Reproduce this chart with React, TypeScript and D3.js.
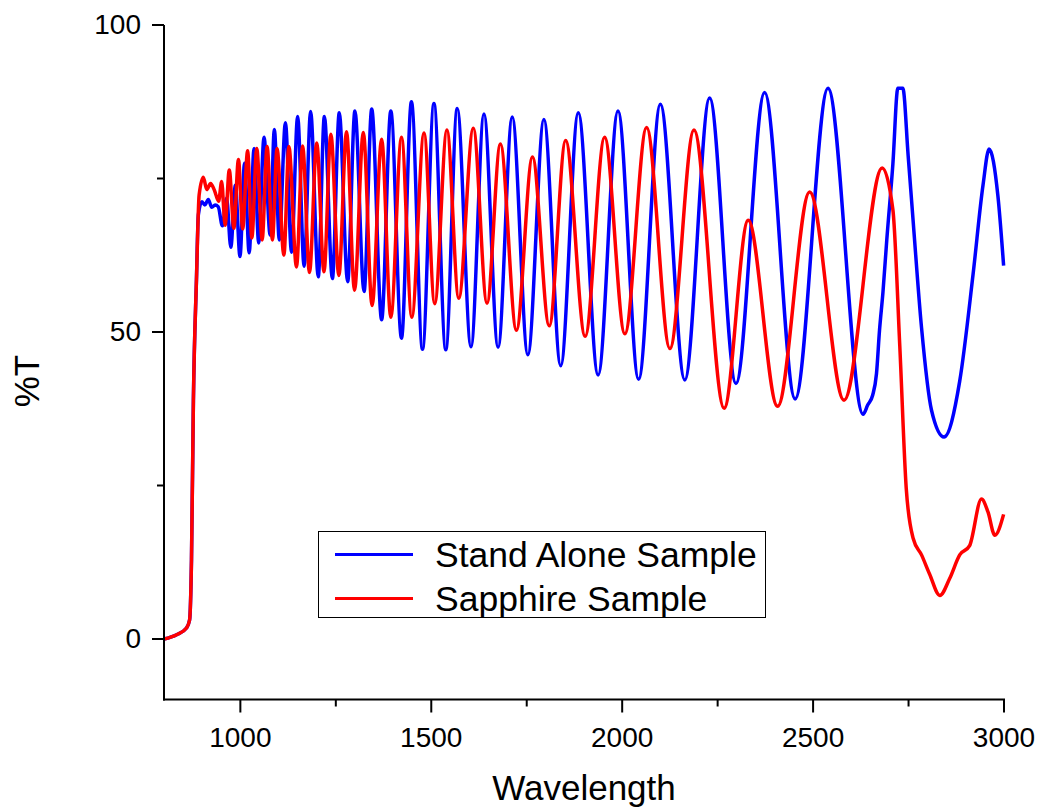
import React from "react";
import * as d3 from "d3";

// Wavelength (nm), %T — extrema and shape points
const standAloneSeries: [number, number][] = [
  [800, 0], [833, 0.7], [859, 1.8], [867, 3.1], [872, 12.9], [877, 38.9], [885, 58.5], [890, 69.1],
  [899, 71.2], [907, 70.7], [916, 71.6], [925, 70.3], [934, 70.7], [942, 70.4], [953, 67.3], [964, 71.8],
  [975, 63.8], [987, 73.9], [999, 62.3], [1011, 77.5], [1023, 62.9], [1036, 79.9], [1048, 64.5], [1062, 81.7],
  [1078, 65.8], [1089, 83.0], [1102, 65.0], [1118, 84.1], [1134, 63.0], [1150, 85.1], [1167, 60.7], [1184, 85.9],
  [1204, 59.0], [1220, 85.1], [1241, 58.7], [1259, 85.7], [1281, 58.2], [1300, 86.0], [1324, 56.6], [1344, 86.3],
  [1370, 52.0], [1394, 86.0], [1422, 49.0], [1448, 87.5], [1477, 47.2], [1507, 87.2], [1538, 47.1], [1568, 86.4],
  [1604, 47.6], [1638, 85.5], [1675, 47.5], [1712, 85.0], [1753, 46.3], [1795, 84.6], [1839, 44.5], [1885, 85.7],
  [1937, 43.0], [1989, 86.0], [2043, 42.3], [2100, 87.1], [2164, 42.2], [2229, 88.1], [2298, 41.6], [2373, 89.0],
  [2453, 39.1], [2539, 89.7], [2631, 36.6], [2643, 38.1], [2656, 39.7], [2666, 43.2], [2674, 50.3], [2683, 56.5],
  [2693, 65.0], [2709, 77.4], [2722, 89.7], [2735, 89.7], [2749, 78.7], [2762, 68.1], [2784, 50.7], [2810, 37.3],
  [2843, 32.9], [2884, 42.0], [2919, 59.4], [2945, 73.9], [2961, 79.8], [2984, 72.2], [2999, 60.8],
];

const sapphireSeries: [number, number][] = [
  [800, 0], [833, 0.7], [859, 1.8], [867, 3.1], [872, 12.9], [877, 38.9], [885, 58.5], [892, 72.3],
  [903, 75.2], [912, 73.2], [922, 74.2], [932, 73.1], [943, 71.3], [951, 74.5], [960, 67.4], [971, 76.4],
  [983, 66.9], [995, 78.1], [1006, 66.8], [1019, 79.5], [1030, 65.3], [1043, 79.9], [1057, 65.0], [1070, 80.2],
  [1084, 65.0], [1096, 79.9], [1114, 62.5], [1127, 80.2], [1147, 60.6], [1163, 80.3], [1181, 59.7], [1200, 80.8],
  [1219, 59.8], [1237, 82.2], [1258, 59.2], [1278, 82.6], [1299, 56.8], [1322, 82.5], [1345, 54.3], [1370, 81.4],
  [1394, 52.4], [1422, 81.7], [1449, 52.4], [1481, 82.4], [1509, 54.6], [1541, 82.9], [1572, 55.5], [1610, 83.2],
  [1646, 54.7], [1681, 80.6], [1723, 50.3], [1765, 78.5], [1809, 51.0], [1852, 81.2], [1903, 49.3], [1954, 81.7],
  [2007, 49.7], [2064, 83.3], [2125, 47.3], [2188, 82.9], [2267, 37.6], [2330, 68.2], [2407, 37.9], [2491, 72.8],
  [2581, 38.9], [2681, 76.7], [2709, 69.9], [2727, 47.8], [2744, 24.5], [2762, 16.4], [2784, 13.7], [2805, 10.6],
  [2832, 7.1], [2858, 9.9], [2884, 13.7], [2910, 15.2], [2941, 22.8], [2958, 20.7], [2976, 16.9], [2999, 20.3],
];

const seriesNames = ["Stand Alone Sample", "Sapphire Sample"];
const seriesColors = ["#0000ff", "#ff0000"];
const xMajorTicks = [1000, 1500, 2000, 2500, 3000];
const xMinorTicks = [1250, 1750, 2250, 2750];
const yMajorTicks = [0, 50, 100];
const yMinorTicks = [25, 75];
const xTitle = "Wavelength";
const yTitle = "%T";

export default function App() {
  const W = 1040, H = 811;
  const left = 164, right = 1004, top = 25, bottom = 700.4;
  const x = d3.scaleLinear().domain([800, 3000]).range([left, right]);
  const y = d3.scaleLinear().domain([-10, 100]).range([bottom, top]);
  const line = d3
    .line<[number, number]>()
    .x((d) => x(d[0]))
    .y((d) => y(d[1]))
    .curve(d3.curveMonotoneX);
  const font = "'Liberation Sans', Arial, sans-serif";
  const axisY = 699.5;
  const series = [standAloneSeries, sapphireSeries];

  return (
    <svg
      width={W}
      height={H}
      style={{ position: "absolute", left: 0, top: 0, display: "block", background: "#fff" }}
      fontFamily={font}
    >
      <rect x={0} y={0} width={W} height={H} fill="#fff" />
      {series.map((s, i) => (
        <path key={i} d={line(s) || ""} fill="none" stroke={seriesColors[i]} strokeWidth={3.5} strokeLinejoin="round" />
      ))}
      {/* axes */}
      <line x1={left} x2={left} y1={top} y2={axisY + 1} stroke="#000" strokeWidth={2} />
      <line x1={left - 1} x2={right + 1} y1={axisY} y2={axisY} stroke="#000" strokeWidth={2} />
      {xMajorTicks.map((t) => (
        <g key={"xM" + t}>
          <line x1={x(t)} x2={x(t)} y1={axisY} y2={axisY + 13} stroke="#000" strokeWidth={2} />
          <text x={x(t)} y={747} fontSize={28} textAnchor="middle" fill="#000">{t}</text>
        </g>
      ))}
      {xMinorTicks.map((t) => (
        <line key={"xm" + t} x1={x(t)} x2={x(t)} y1={axisY} y2={axisY + 7} stroke="#000" strokeWidth={2} />
      ))}
      {yMajorTicks.map((t) => (
        <g key={"yM" + t}>
          <line x1={left - 12} x2={left} y1={y(t)} y2={y(t)} stroke="#000" strokeWidth={2} />
          <text x={141} y={y(t) + 9} fontSize={28} textAnchor="end" fill="#000">{t}</text>
        </g>
      ))}
      {yMinorTicks.map((t) => (
        <line key={"ym" + t} x1={left - 7} x2={left} y1={y(t)} y2={y(t)} stroke="#000" strokeWidth={2} />
      ))}
      <text x={(left + right) / 2} y={800} fontSize={35} textAnchor="middle" fill="#000">{xTitle}</text>
      <text transform="translate(39,381) rotate(-90)" fontSize={35} textAnchor="middle" fill="#000">{yTitle}</text>
      {/* legend */}
      <rect x={318.5} y={531.5} width={447} height={86} fill="#fff" stroke="#000" strokeWidth={1} />
      {seriesNames.map((n, i) => (
        <g key={n}>
          <line x1={335} x2={413} y1={554.5 + i * 44} y2={554.5 + i * 44} stroke={seriesColors[i]} strokeWidth={3} />
          <text x={435} y={554.5 + i * 44 + 12.5} fontSize={35.5} fill="#000">{n}</text>
        </g>
      ))}
    </svg>
  );
}
